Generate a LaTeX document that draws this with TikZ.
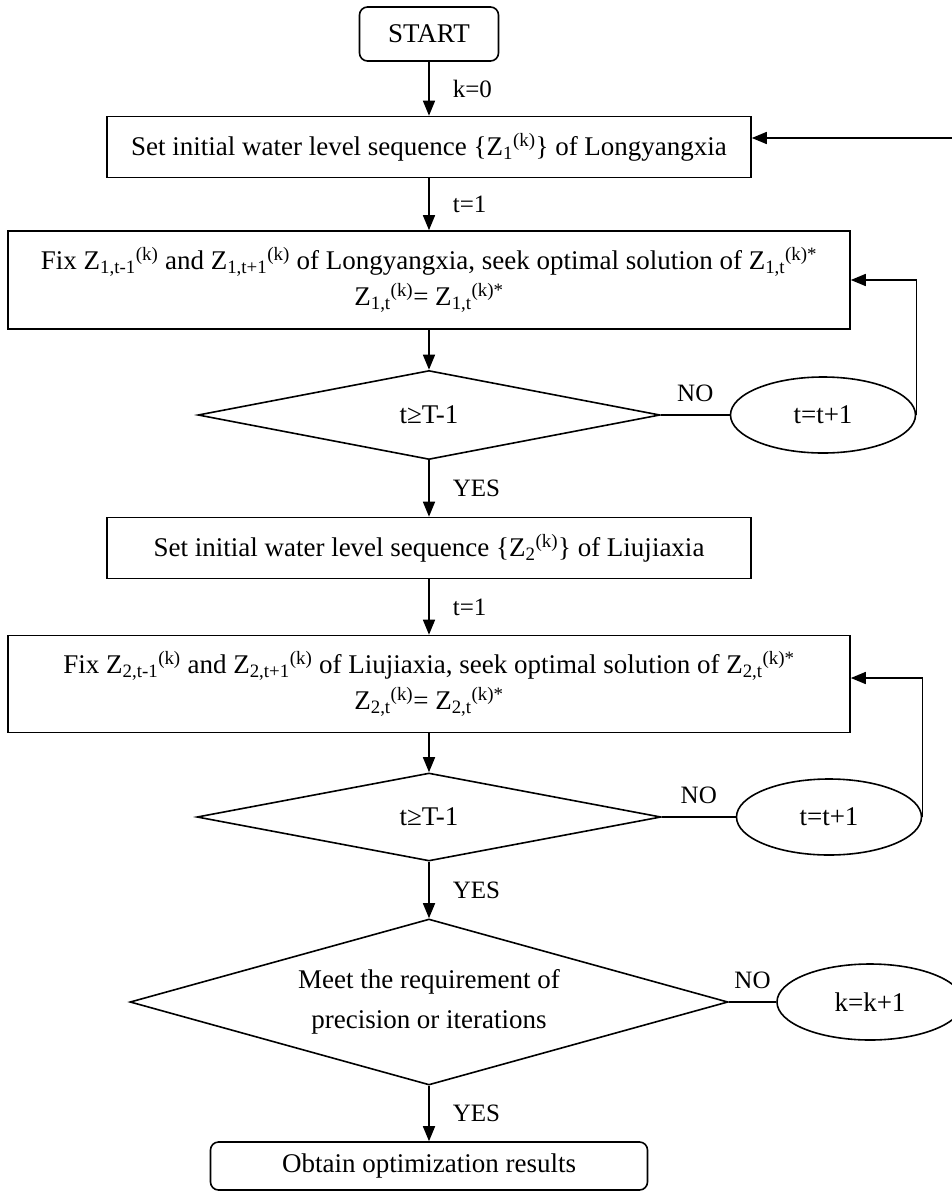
\documentclass[tikz,border=0pt]{standalone}
\usepackage{fontspec}
\setmainfont{Liberation Serif}
\usetikzlibrary{shapes.geometric,arrows.meta}

\begin{document}
\begin{tikzpicture}[x=1pt,y=-1pt,
    every node/.style={font=\fontsize{27}{32}\selectfont},
    proc/.style={draw, rectangle, line width=1.6pt, inner sep=0pt, align=center},
    term/.style={proc, rounded corners=8pt},
    cond/.style={draw, diamond, line width=1.6pt, inner sep=0pt, align=center},
    counter/.style={draw, ellipse, line width=1.6pt, inner sep=0pt, minimum width=185pt, minimum height=76pt},
    flow/.style={-{Triangle[length=15pt,width=12pt]}, line width=1.6pt},
    lbl/.style={font=\fontsize{25}{30}\selectfont, inner sep=0pt}]
        \useasboundingbox (0,0) rectangle (952,1192);
        % main column
        \node[term, minimum width=139pt, minimum height=54pt] (start) at (429,34) {START};
        \node[proc, minimum width=644pt, minimum height=61pt] (set1) at (429,147)
            {Set initial water level sequence \{Z\textsubscript{1}\textsuperscript{(k)}\} of Longyangxia};
        \node[proc, minimum width=842pt, minimum height=98pt] (fix1) at (429,280)
            {Fix Z\textsubscript{1,t-1}\textsuperscript{(k)} and Z\textsubscript{1,t+1}\textsuperscript{(k)} of Longyangxia, seek optimal solution of Z\textsubscript{1,t}\textsuperscript{(k)*}\\[4pt]
             Z\textsubscript{1,t}\textsuperscript{(k)}= Z\textsubscript{1,t}\textsuperscript{(k)*}};
        \node[cond, aspect=5.2, minimum width=462pt, minimum height=89pt] (dec1) at (429,415) {t≥T-1};
        \node[proc, minimum width=644pt, minimum height=61pt] (set2) at (429,548)
            {Set initial water level sequence \{Z\textsubscript{2}\textsuperscript{(k)}\} of Liujiaxia};
        \node[proc, minimum width=842pt, minimum height=97pt] (fix2) at (429,684)
            {Fix Z\textsubscript{2,t-1}\textsuperscript{(k)} and Z\textsubscript{2,t+1}\textsuperscript{(k)} of Liujiaxia, seek optimal solution of Z\textsubscript{2,t}\textsuperscript{(k)*}\\[4pt]
             Z\textsubscript{2,t}\textsuperscript{(k)}= Z\textsubscript{2,t}\textsuperscript{(k)*}};
        \node[cond, aspect=5.3, minimum width=464pt, minimum height=88pt] (dec2) at (429,817) {t≥T-1};
        \node[cond, aspect=3.6, minimum width=598pt, minimum height=166pt] (dec3) at (429,1002)
            {Meet the requirement of\\[8pt] precision or iterations};
        \node[term, minimum width=437pt, minimum height=48pt] (stop) at (429,1166) {Obtain optimization results};
        % counters
        \node[counter] (inc1) at (823,415) {t=t+1};
        \node[counter] (inc2) at (829,817) {t=t+1};
        \node[counter, minimum width=186pt] (inck) at (870,1002) {k=k+1};
        % arrows down
        \draw[flow] (start) -- node[lbl, right=23pt] {k=0} (set1);
        \draw[flow] (set1) -- node[lbl, right=23pt] {t=1} (fix1);
        \draw[flow] (fix1) -- (dec1);
        \draw[flow] (dec1) -- node[lbl, right=23pt] {YES} (set2);
        \draw[flow] (set2) -- node[lbl, right=23pt] {t=1} (fix2);
        \draw[flow] (fix2) -- (dec2);
        \draw[flow] (dec2) -- node[lbl, right=23pt] {YES} (dec3);
        \draw[flow] (dec3) -- node[lbl, right=23pt] {YES} (stop);
        % NO branches
        \draw[line width=1.6pt] (dec1.east) -- node[lbl, above=12pt] {NO} (inc1.west);
        \draw[line width=1.6pt] (dec2.east) -- node[lbl, above=12pt] {NO} (inc2.west);
        \draw[line width=1.6pt] (dec3.east) -- node[lbl, above=12pt] {NO} (inck.west);
        \draw[flow] (inc1.east) |- (fix1.east);
        \draw[flow] (inc2.east) |- ([yshift=6pt]fix2.east);
        \draw[flow] (inck.east) -- ++(30,0) |- ([yshift=9pt]set1.east);
\end{tikzpicture}
\end{document}
